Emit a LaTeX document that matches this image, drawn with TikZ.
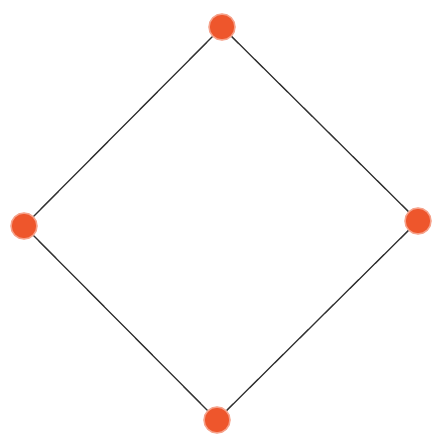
\documentclass[tikz,border=0pt]{standalone}
\usepackage{tikz}
\usetikzlibrary{positioning}
\definecolor{dotorange}{RGB}{238,86,44}

\begin{document}
\begin{tikzpicture}[x=1pt, y=-1pt,
  vert/.style={circle, fill=dotorange, draw=dotorange!55, line width=1.5pt, minimum size=26pt, inner sep=0pt},
  edge/.style={draw=black!80, line width=1.3pt}]
  \useasboundingbox (0,0) rectangle (432,437);
  \node[vert] (t) at (222,27) {};
  \node[vert] (l) at (24,226) {};
  \node[vert] (r) at (418,221) {};
  \node[vert] (b) at (217,420) {};
  \draw[edge] (t) -- (l);
  \draw[edge] (t) -- (r);
  \draw[edge] (l) -- (b);
  \draw[edge] (r) -- (b);
\end{tikzpicture}
\end{document}
